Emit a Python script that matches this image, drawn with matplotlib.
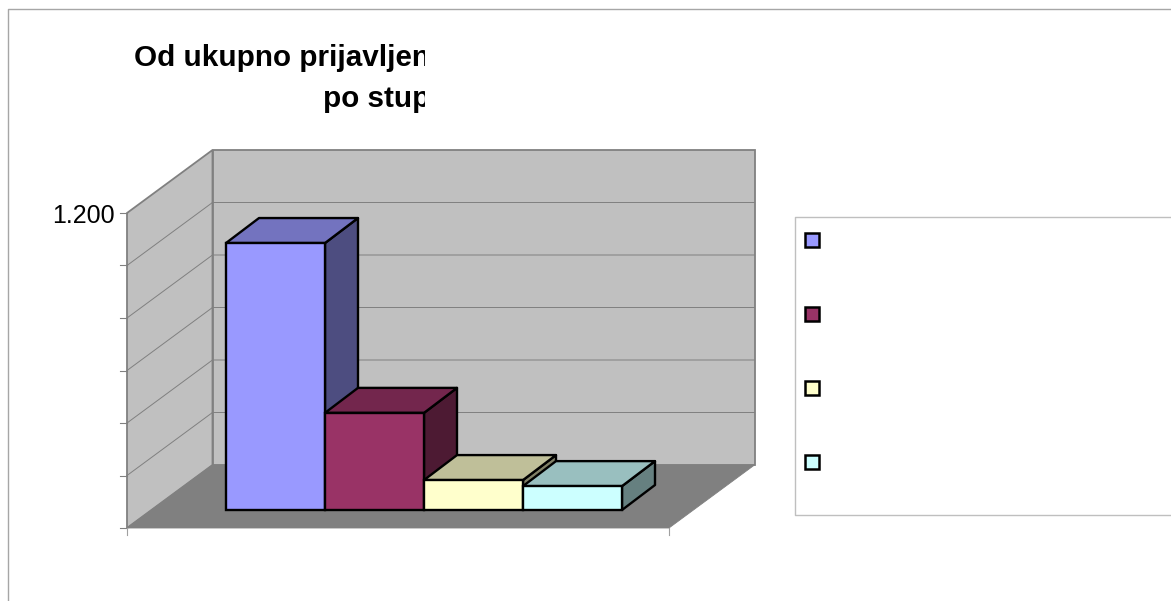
import matplotlib
matplotlib.use("Agg")
import matplotlib.pyplot as plt
from matplotlib.patches import Rectangle
from matplotlib.transforms import Bbox

# Data
values = [1017, 370, 114, 91]
y_ticks = [0, 200, 400, 600, 800, 1000, 1200]
top_tick_label = "1.200"
title_line1 = "Od ukupno prijavljen"
title_line2 = "po stup"
front_colors = ["#9999FF", "#993366", "#FFFFCC", "#CCFFFF"]
top_colors = ["#7373BF", "#73264D", "#BFBF99", "#99BFBF"]
side_colors = ["#4D4D80", "#4D1A33", "#808066", "#668080"]

W, H = 1171, 601
PX_X = 99.0            # pixels per category
PX_Y = 315.0 / 1200.0  # pixels per value unit
X0_PX = 275.5          # pixel of category 0 centre
Y0_PX = 528.0          # pixel of value 0 on the front plane

fig = plt.figure(figsize=(W / 100, H / 100), dpi=100, facecolor="white")
ax = fig.add_axes([0, 0, 1, 1])
ax.set_xlim(-X0_PX / PX_X, (W - X0_PX) / PX_X)
ax.set_ylim(-(H - Y0_PX) / PX_Y, Y0_PX / PX_Y)
ax.axis("off")


def dx(px):
    return px / PX_X


def dy(px):
    return px / PX_Y


GREY = "#808080"
x_left, x_right = dx(127 - X0_PX), dx(669 - X0_PX)
wall_dx, wall_dy = dx(85.5), dy(63)
y_top = y_ticks[-1]

# Outer frame
ax.plot([dx(8 - X0_PX), dx(8 - X0_PX), dx(W - X0_PX)],
        [dy(Y0_PX - H), dy(Y0_PX - 9.5), dy(Y0_PX - 9.5)],
        color="#A6A6A6", lw=1.0, solid_capstyle="butt")

# Walls and floor
ax.fill([x_left, x_left + wall_dx, x_left + wall_dx, x_left],
        [0, wall_dy, y_top + wall_dy, y_top],
        fc="#C0C0C0", ec=GREY, lw=1.3, zorder=1)
ax.fill([x_left + wall_dx, x_right + wall_dx, x_right + wall_dx, x_left + wall_dx],
        [wall_dy, wall_dy, y_top + wall_dy, y_top + wall_dy],
        fc="#C0C0C0", ec=GREY, lw=1.3, zorder=1)
ax.fill([x_left, x_right, x_right + wall_dx, x_left + wall_dx],
        [0, 0, wall_dy, wall_dy], fc=GREY, ec=GREY, lw=0.6, zorder=2)

# Gridlines and ticks
for t in y_ticks[1:-1]:
    ax.plot([x_left, x_left + wall_dx, x_right + wall_dx],
            [t, t + wall_dy, t + wall_dy], color=GREY, lw=0.7, zorder=2)
for t in y_ticks:
    ax.plot([x_left - dx(7), x_left], [t, t], color=GREY, lw=0.8, zorder=2)
for xv in (x_left, x_right):
    ax.plot([xv, xv], [0, -dy(7)], color="#A0A0A0", lw=0.8, zorder=2)

# Pseudo-3D bars
bar_w = 1.0
base = dy(18)
depth_x, depth_y = dx(33), dy(25)
for i, v in enumerate(values):
    l, r = i - bar_w / 2, i + bar_w / 2
    b, t = base, base + v
    kw = dict(ec="black", lw=1.7, joinstyle="round", zorder=3 + i)
    ax.fill([r, r + depth_x, r + depth_x, r], [b, b + depth_y, t + depth_y, t],
            fc=side_colors[i], **kw)
    ax.fill([l, r, r + depth_x, l + depth_x], [t, t, t + depth_y, t + depth_y],
            fc=top_colors[i], **kw)
    ax.bar(i, v, width=bar_w, bottom=b, color=front_colors[i],
           edgecolor="black", linewidth=1.7, zorder=3 + i)

# Axis label
ax.text(x_left - dx(12), y_top - dy(3.5), top_tick_label, ha="right", va="center",
        family="Liberation Sans", fontsize=18, color="black", zorder=10)

# Title, cut off at a fixed pixel column as in the reference
clip = Bbox([[0, 0], [425, H]])
for s, px_l, px_base in ((title_line1, 134, 66), (title_line2, 323, 107)):
    txt = ax.text(dx(px_l - X0_PX), dy(Y0_PX - px_base), s, ha="left", va="baseline",
                  family="Liberation Sans", weight="bold", fontsize=21.3, color="black", zorder=10)
    txt.set_clip_box(clip)
    txt.set_clip_on(True)

# Legend box and keys (legend labels are not visible in the reference)
ax.plot([dx(W - X0_PX), dx(795 - X0_PX), dx(795 - X0_PX), dx(W - X0_PX)],
        [dy(Y0_PX - 217), dy(Y0_PX - 217), dy(Y0_PX - 515), dy(Y0_PX - 515)],
        color="#BFBFBF", lw=1.0, zorder=2)
for i, c in enumerate(front_colors):
    cy = 240 + 74 * i
    ax.add_patch(Rectangle((dx(805 - X0_PX), dy(Y0_PX - cy - 7)), dx(14), dy(14),
                           fc=c, ec="black", lw=1.8, zorder=5))

fig.savefig("out.png", dpi=100, facecolor="white")
